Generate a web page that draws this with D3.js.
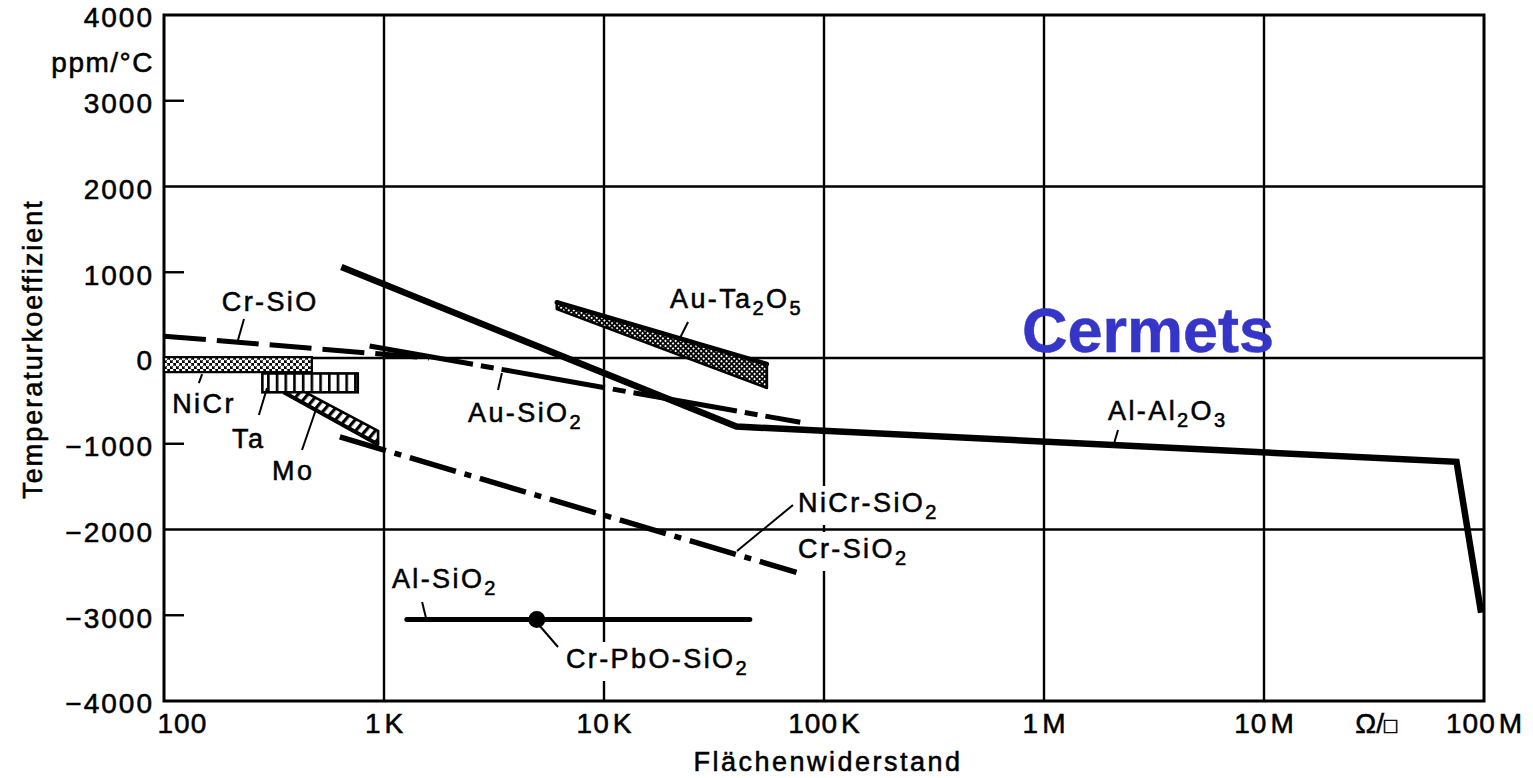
<!DOCTYPE html>
<html>
<head>
<meta charset="utf-8">
<script src="https://cdn.jsdelivr.net/npm/d3@7"></script>
<style>
  body { margin: 0; background: #fff; }
  svg { display: block; }
  text { font-family: "Liberation Sans", Arial, sans-serif; fill: #000; stroke: #000; stroke-width: 0.55px; }
</style>
</head>
<body>
<div id="chart"></div>
<script>
// axis ticks
const xTicks = [100, 1e3, 1e4, 1e5, 1e6, 1e7, 1e8]
const xTickLabels = ["100", "1|K", "10|K", "100|K", "1|M", "10|M", "100|M"]
const yTicks = [4000, 3000, 2000, 1000, 0, -1000, -2000, -3000, -4000]
const yTickLabels = ["4000", "3000", "2000", "1000", "0", "\u22121000", "\u22122000", "\u22123000", "\u22124000"]
const yGrid = [2000, 0, -2000]
const yShortTicks = [3000, 1000, -1000, -3000]
const xGrid = [1e3, 1e4, 1e5, 1e6, 1e7]

// series: [Flächenwiderstand (Ohm/sq), TK (ppm/°C)]
const alAl2O3 = [[640, 1060], [40000, -800], [75000000, -1210], [97000000, -2970]]
const crSiO = [[100, 255], [1600, 0]]
const auSiO2 = [[860, 140], [78000, -750]]
const niCrSiO2 = [[630, -920], [75000, -2500]]
const alSiO2 = [[1270, -3050], [46000, -3050]]
const crPbOSiO2 = [[4950, -3050]]
// bands / areas
const niCr = [[100, 10], [470, -165]]
const ta = [[280, -180], [760, -400]]
const mo = [[350, -400], [440, -400], [940, -850], [940, -1010]]
const auTa2O5 = [[6100, 650], [55000, -70], [55000, -350], [6100, 570]]

// annotations: text position + leader line, in data units
const labels = [
  { text: "Cr-SiO", at: [183, 548], leader: [[231, 455], [217, 210]] },
  { text: "NiCr", at: [109, -641], leader: [[149, -187], [144, -292]] },
  { text: "Ta", at: [204, -1050], leader: [[294, -350], [270, -665]] },
  { text: "Mo", at: [310, -1423], leader: [[495, -571], [424, -1073]] },
  { text: "Au-SiO_2", at: [2410, -746], leader: [[3435, -175], [3297, -373]] },
  { text: "Au-Ta_2O_5", at: [19950, 583], leader: [[24100, 420], [22150, 233]] },
  { text: "Al-Al_2O_3", at: [1955000, -723], leader: [[2170000, -840], [2080000, -1000]] },
  { text: "NiCr-SiO_2", at: [76200, -1796], leader: [[72300, -1714], [40230, -2250]] },
  { text: "Cr-SiO_2", at: [76200, -2332], leader: null },
  { text: "Al-SiO_2", at: [1086, -2682], leader: [[1490, -2845], [1552, -3032]] },
  { text: "Cr-PbO-SiO_2", at: [6714, -3615], leader: [[5064, -3114], [6180, -3370]] }
]

const margin = { top: 15, right: 49, bottom: 77, left: 164 }
const width = 1533 - margin.left - margin.right
const height = 778 - margin.top - margin.bottom

const svg = d3.select("#chart")
  .append("svg")
    .attr("width", 1533)
    .attr("height", 778)

const defs = svg.append("defs")

// dotted texture (NiCr)
const pDots = defs.append("pattern").attr("id", "dots")
  .attr("patternUnits", "userSpaceOnUse").attr("width", 6).attr("height", 6)
pDots.append("rect").attr("width", 6).attr("height", 6).attr("fill", "#000")
pDots.append("circle").attr("cx", 1.5).attr("cy", 1.5).attr("r", 1.9).attr("fill", "#fff")
pDots.append("circle").attr("cx", 4.5).attr("cy", 4.5).attr("r", 1.9).attr("fill", "#fff")

// vertical stripes (Ta)
const pStripes = defs.append("pattern").attr("id", "stripes")
  .attr("patternUnits", "userSpaceOnUse").attr("width", 8.7).attr("height", 20)
pStripes.append("rect").attr("width", 8.7).attr("height", 20).attr("fill", "#fff")
pStripes.append("rect").attr("x", 0).attr("width", 2.6).attr("height", 20).attr("fill", "#000")

// diagonal hatch (Mo)
const pHatch = defs.append("pattern").attr("id", "hatch")
  .attr("patternUnits", "userSpaceOnUse").attr("width", 7.5).attr("height", 10)
  .attr("patternTransform", "rotate(40)")
pHatch.append("rect").attr("width", 7.5).attr("height", 10).attr("fill", "#fff")
pHatch.append("rect").attr("width", 3.2).attr("height", 10).attr("fill", "#000")

// cross hatch (Au-Ta2O5)
const pCross = defs.append("pattern").attr("id", "cross")
  .attr("patternUnits", "userSpaceOnUse").attr("width", 3.6).attr("height", 3.6)
  .attr("patternTransform", "rotate(45)")
pCross.append("rect").attr("width", 3.6).attr("height", 3.6).attr("fill", "#000")
pCross.append("rect").attr("x", 0.9).attr("y", 0.9).attr("width", 1.9).attr("height", 1.9).attr("fill", "#fff")

const g = svg.append("g")
  .attr("transform", "translate(" + margin.left + "," + margin.top + ")")

const x = d3.scaleLog().domain([100, 1e8]).range([0, width])
const y = d3.scaleLinear().domain([-4000, 4000]).range([height, 0])

// grid
g.selectAll(".vgrid").data(xGrid).enter().append("line")
  .attr("x1", d => x(d)).attr("x2", d => x(d))
  .attr("y1", 0).attr("y2", height)
  .attr("stroke", "#000").attr("stroke-width", 2.4)
g.selectAll(".hgrid").data(yGrid).enter().append("line")
  .attr("x1", 0).attr("x2", width)
  .attr("y1", d => y(d)).attr("y2", d => y(d))
  .attr("stroke", "#000").attr("stroke-width", 2.4)
g.selectAll(".stick").data(yShortTicks).enter().append("line")
  .attr("x1", 0).attr("x2", 20)
  .attr("y1", d => y(d)).attr("y2", d => y(d))
  .attr("stroke", "#000").attr("stroke-width", 2.4)
g.append("rect")
  .attr("width", width).attr("height", height)
  .attr("fill", "none").attr("stroke", "#000").attr("stroke-width", 3)

// axes (labels only)
const xAxis = g.append("g")
  .attr("transform", `translate(0,${height})`)
  .call(d3.axisBottom(x).tickValues(xTicks).tickSize(0).tickPadding(12)
    .tickFormat(() => ""))
xAxis.select(".domain").remove()
xAxis.selectAll("text")
  .attr("font-size", 28).attr("letter-spacing", 1)
  .attr("font-family", "Liberation Sans, Arial, sans-serif")
  .attr("fill", "#000")
  .each(function(d, i) {
    const parts = xTickLabels[i].split("|")
    const t = d3.select(this)
    t.append("tspan").text(parts[0])
    if (parts[1]) t.append("tspan").attr("dx", 3).text(parts[1])
  })
xAxis.selectAll("text").filter((d, i) => i === 0)
  .attr("text-anchor", "start").attr("x", -7)

const yAxis = g.append("g")
  .call(d3.axisLeft(y).tickValues(yTicks).tickSize(0).tickPadding(10)
    .tickFormat((d, i) => yTickLabels[i]))
yAxis.select(".domain").remove()
yAxis.selectAll("text")
  .attr("font-size", 28).attr("letter-spacing", 2).attr("dy", "0.42em")
  .attr("font-family", "Liberation Sans, Arial, sans-serif")
  .attr("fill", "#000")

g.append("text")
  .attr("x", -10).attr("y", 57)
  .attr("text-anchor", "end")
  .attr("font-size", 28).attr("letter-spacing", 1.5)
  .text("ppm/°C")

svg.append("text")
  .attr("x", 828).attr("y", 771)
  .attr("text-anchor", "middle")
  .attr("font-size", 27).attr("letter-spacing", 2.5)
  .text("Flächenwiderstand")

svg.append("text")
  .attr("transform", "translate(42,349) rotate(-90)")
  .attr("text-anchor", "middle")
  .attr("font-size", 27).attr("letter-spacing", 2)
  .text("Temperaturkoeffizient")

const unit = g.append("text")
  .attr("x", x(2.6e7)).attr("y", height + 32)
  .attr("font-size", 28)
unit.append("tspan").text("\u03A9/")
unit.append("tspan").attr("font-size", 22).text("\u25A1")

// label texts with simple subscript markup
const labelLayer = g.append("g")
const textNodes = []
labels.forEach(lab => {
  const t = labelLayer.append("text")
    .attr("x", x(lab.at[0])).attr("y", y(lab.at[1]))
    .attr("font-size", 27).attr("letter-spacing", 2.4)
  let shifted = false
  lab.text.split(/(_\d)/).forEach(p => {
    if (!p) return
    if (p[0] === "_") {
      t.append("tspan").attr("dy", 7).attr("font-size", 20).text(p.slice(1))
      shifted = true
    } else {
      const ts = t.append("tspan").text(p)
      if (shifted) { ts.attr("dy", -7); shifted = false }
    }
  })
  textNodes.push(t)
})

// white backgrounds behind labels (they break the grid)
const bgLayer = g.insert("g", () => labelLayer.node())
textNodes.forEach(t => {
  const b = t.node().getBBox()
  bgLayer.append("rect")
    .attr("x", b.x - 4).attr("y", b.y - 2)
    .attr("width", b.width + 6).attr("height", b.height + 4)
    .attr("fill", "#fff")
})

const marks = g.insert("g", () => labelLayer.node())
const line = d3.line().x(d => x(d[0])).y(d => y(d[1]))

// hatched areas
marks.append("rect")
  .attr("x", x(niCr[0][0])).attr("y", y(niCr[0][1]))
  .attr("width", x(niCr[1][0]) - x(niCr[0][0]))
  .attr("height", y(niCr[1][1]) - y(niCr[0][1]))
  .attr("fill", "url(#dots)").attr("stroke", "#000").attr("stroke-width", 2.2)

pStripes.attr("x", margin.left + x(ta[0][0]) + 6)
marks.append("rect")
  .attr("x", x(ta[0][0])).attr("y", y(ta[0][1]))
  .attr("width", x(ta[1][0]) - x(ta[0][0]))
  .attr("height", y(ta[1][1]) - y(ta[0][1]))
  .attr("fill", "url(#stripes)").attr("stroke", "#000").attr("stroke-width", 2.6)

marks.append("path")
  .attr("d", line(mo) + "Z")
  .attr("fill", "url(#hatch)").attr("stroke", "#000").attr("stroke-width", 2.6)
  .attr("stroke-linejoin", "round")
marks.append("path")
  .attr("d", line([mo[0], mo[3]]))
  .attr("stroke", "#000").attr("stroke-width", 4).attr("fill", "none")

marks.append("path")
  .attr("d", line(auTa2O5) + "Z")
  .attr("fill", "url(#cross)").attr("stroke", "#000").attr("stroke-width", 2.6)
  .attr("stroke-linejoin", "round")
marks.append("path")
  .attr("d", line(auTa2O5.slice(0, 2)))
  .attr("stroke", "#000").attr("stroke-width", 4.5).attr("fill", "none")
  .attr("stroke-linecap", "round")

// lines
marks.append("path")
  .attr("d", line(crSiO))
  .attr("fill", "none").attr("stroke", "#000").attr("stroke-width", 5)
  .attr("stroke-dasharray", "42,11")

marks.append("path")
  .attr("d", line(auSiO2))
  .attr("fill", "none").attr("stroke", "#000").attr("stroke-width", 5)
  .attr("stroke-dasharray", "105,8,13,8")

marks.append("path")
  .attr("d", line(niCrSiO2))
  .attr("fill", "none").attr("stroke", "#000").attr("stroke-width", 5.5)
  .attr("stroke-dasharray", "48,9,7,9")

marks.append("path")
  .attr("d", line(alAl2O3))
  .attr("fill", "none").attr("stroke", "#000").attr("stroke-width", 6.5)
  .attr("stroke-linejoin", "miter")

marks.append("path")
  .attr("d", line(alSiO2))
  .attr("fill", "none").attr("stroke", "#000").attr("stroke-width", 5)
  .attr("stroke-linecap", "round")

marks.selectAll(".dot").data(crPbOSiO2).enter().append("circle")
  .attr("cx", d => x(d[0])).attr("cy", d => y(d[1]))
  .attr("r", 8.5).attr("fill", "#000")

// leader lines
marks.selectAll(".leader").data(labels.filter(d => d.leader)).enter().append("path")
  .attr("d", d => line(d.leader))
  .attr("stroke", "#000").attr("stroke-width", 2).attr("fill", "none")

// headline
g.append("text")
  .attr("x", x(794000)).attr("y", y(70))
  .attr("font-size", 63).attr("font-weight", "bold")
  .style("fill", "#3535c8").style("stroke", "#3535c8").style("stroke-width", "0.5px")
  .text("Cermets")
</script>
</body>
</html>
